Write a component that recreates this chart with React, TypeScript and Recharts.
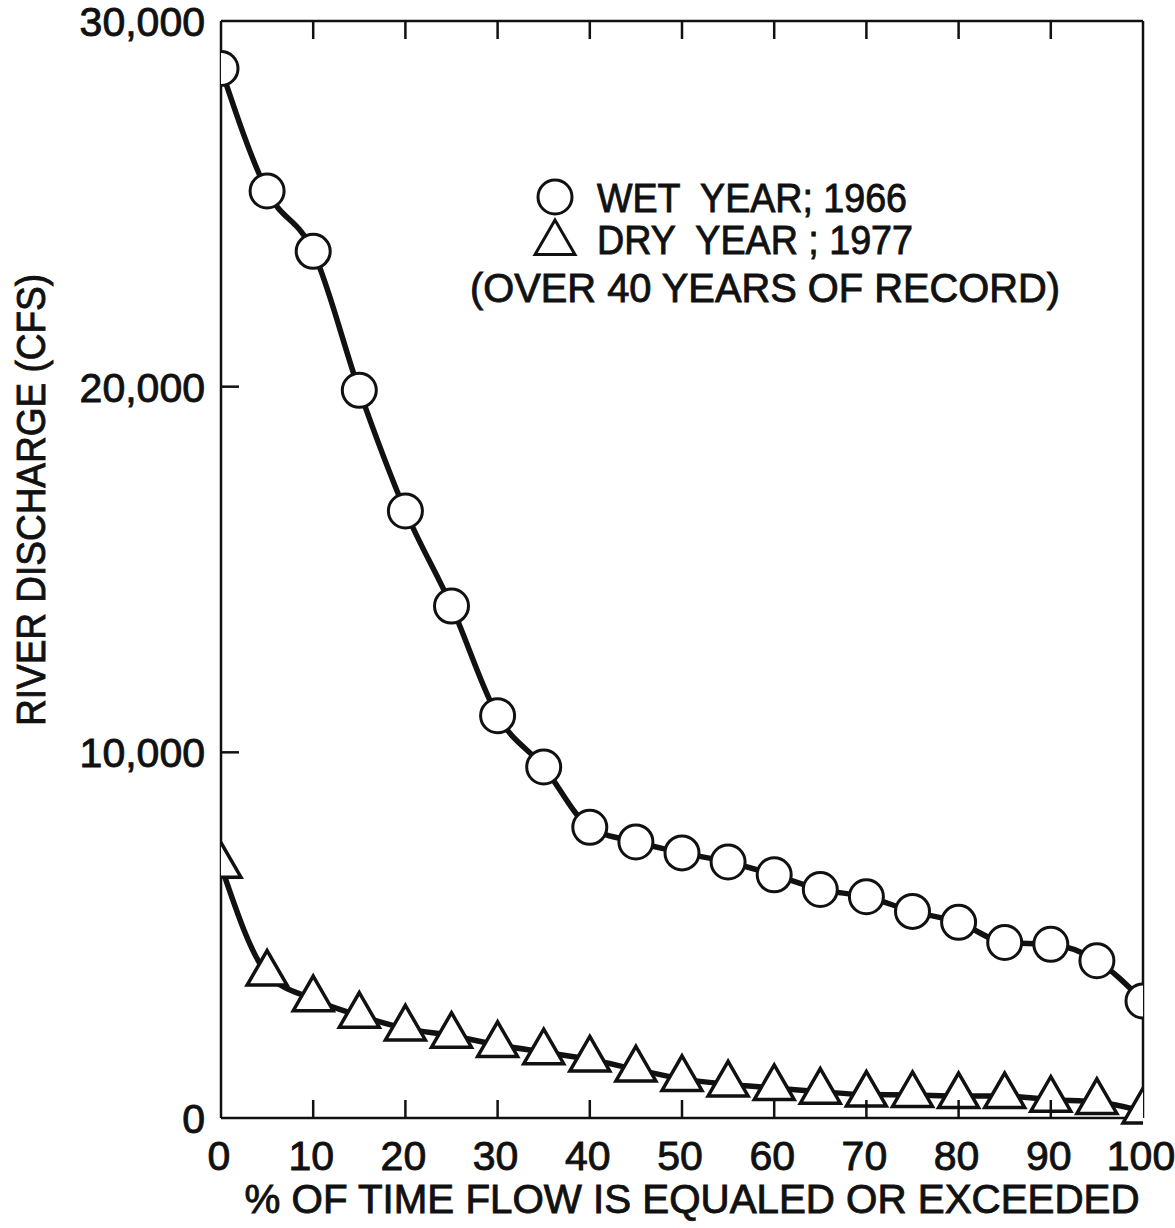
import React from 'react';
import { LineChart, Line, XAxis, YAxis, Legend, Label, Symbols } from 'recharts';

// flow-duration curves, % of time vs discharge (cfs)
const percentTime = [0, 5, 10, 15, 20, 25, 30, 35, 40, 45, 50, 55, 60, 65, 70, 75, 80, 85, 90, 95, 100];
const wetYear1966 = [28700, 25350, 23700, 19900, 16600, 14000, 11000, 9600, 7950, 7550, 7250, 7000, 6650, 6250, 6050, 5650, 5350, 4800, 4750, 4300, 3200];
const dryYear1977 = [6900, 3950, 3250, 2800, 2450, 2250, 2000, 1800, 1600, 1330, 1070, 920, 820, 720, 640, 630, 600, 600, 500, 440, 180];

const xTicks = [0, 10, 20, 30, 40, 50, 60, 70, 80, 90, 100];
const yTicks = [0, 10000, 20000, 30000];

const chartData = percentTime.map((p, i) => ({ p, wet: wetYear1966[i], dry: dryYear1977[i] }));

const INK = '#111';
const FONT = '"Liberation Sans", Arial, sans-serif';
const TICK = 18;
const TRI_AREA = 690;
// a thin outline makes the lettering look pen-drawn
const LETTER = { fontFamily: FONT, fill: INK, stroke: INK, strokeWidth: 0.9 };

const BottomTick = ({ x, y, payload }: any) => {
  const v = payload.value;
  return (
    <g>
      {v > 0 && v < 100 && <line x1={x} y1={y} x2={x} y2={y - TICK} stroke={INK} strokeWidth={2.5} />}
      <text x={x - 2} y={y + 52} textAnchor="middle" fontSize={41} {...LETTER}>{v}</text>
    </g>
  );
};

const TopTick = ({ x, y, payload }: any) => {
  const v = payload.value;
  if (v <= 0 || v >= 100) return <g />;
  return <line x1={x} y1={y} x2={x} y2={y + TICK} stroke={INK} strokeWidth={2.5} />;
};

const LeftTick = ({ x, y, payload }: any) => {
  const v = payload.value;
  return (
    <g>
      {v > 0 && v < 30000 && <line x1={x} y1={y} x2={x + TICK} y2={y} stroke={INK} strokeWidth={2.5} />}
      <text x={x - 16} y={y + 15} textAnchor="end" fontSize={41} {...LETTER}>
        {v.toLocaleString('en-US')}
      </text>
    </g>
  );
};

const RightTick = ({ x, y, payload }: any) => {
  const v = payload.value;
  if (v <= 0 || v >= 30000) return <g />;
  return <line x1={x} y1={y} x2={x - TICK} y2={y} stroke={INK} strokeWidth={2.5} />;
};

const TriangleDot = ({ cx, cy, index }: any) => (
  <Symbols key={`tri-${index}`} cx={cx} cy={cy} type="triangle" size={TRI_AREA} fill="#fff" stroke={INK} strokeWidth={3.5} />
);

const XTitle = ({ viewBox }: any) => (
  <text
    x={viewBox.x + viewBox.width / 2 + 10}
    y={viewBox.y + 95}
    textAnchor="middle"
    fontSize={40}
    {...LETTER}
    textLength={895}
    lengthAdjust="spacingAndGlyphs"
  >
    % OF TIME FLOW IS EQUALED OR EXCEEDED
  </text>
);

const YTitle = ({ viewBox }: any) => {
  const cx = viewBox.x + 45;
  const cy = viewBox.y + 479;
  return (
    <text
      x={cx}
      y={cy}
      transform={`rotate(-90 ${cx} ${cy})`}
      textAnchor="middle"
      fontSize={41}
      {...LETTER}
      textLength={452}
      lengthAdjust="spacingAndGlyphs"
    >
      RIVER DISCHARGE (CFS)
    </text>
  );
};

const KeyBox = () => (
  <svg width={660} height={160} style={{ display: 'block' }}>
    <circle cx={115} cy={37} r={17} fill="#fff" stroke={INK} strokeWidth={3} />
    <text x={157} y={52} fontSize={40} {...LETTER} textLength={310} lengthAdjust="spacingAndGlyphs" xmlSpace="preserve">
      WET  YEAR; 1966
    </text>
    <Symbols cx={115} cy={83} type="triangle" size={TRI_AREA} fill="#fff" stroke={INK} strokeWidth={3} />
    <text x={157} y={94} fontSize={40} {...LETTER} textLength={316} lengthAdjust="spacingAndGlyphs" xmlSpace="preserve">
      DRY  YEAR ; 1977
    </text>
    <text x={30} y={142} fontSize={40} {...LETTER} textLength={590} lengthAdjust="spacingAndGlyphs">
      (OVER 40 YEARS OF RECORD)
    </text>
  </svg>
);

export default function App() {
  return (
    <div style={{ position: 'absolute', left: 0, top: 0, width: 1175, height: 1228, background: '#fff' }}>
      <LineChart width={1175} height={1228} data={chartData} margin={{ top: 20, right: 31, bottom: 10, left: 0 }}>
        <XAxis
          dataKey="p"
          type="number"
          domain={[0, 100]}
          ticks={xTicks}
          interval={0}
          allowDataOverflow
          height={100}
          tickSize={0}
          tickMargin={0}
          tickLine={false}
          axisLine={{ stroke: INK, strokeWidth: 2.5 }}
          tick={<BottomTick />}
        >
          <Label content={<XTitle />} />
        </XAxis>
        <XAxis
          xAxisId="top"
          orientation="top"
          dataKey="p"
          type="number"
          domain={[0, 100]}
          ticks={xTicks}
          interval={0}
          height={1}
          tickSize={0}
          tickMargin={0}
          tickLine={false}
          axisLine={{ stroke: INK, strokeWidth: 2.5 }}
          tick={<TopTick />}
        />
        <YAxis
          type="number"
          domain={[0, 30000]}
          ticks={yTicks}
          interval={0}
          width={221}
          tickSize={0}
          tickMargin={0}
          tickLine={false}
          axisLine={{ stroke: INK, strokeWidth: 2.5 }}
          tick={<LeftTick />}
        >
          <Label content={<YTitle />} />
        </YAxis>
        <YAxis
          yAxisId="right"
          orientation="right"
          type="number"
          domain={[0, 30000]}
          ticks={yTicks}
          interval={0}
          width={1}
          tickSize={0}
          tickMargin={0}
          tickLine={false}
          axisLine={{ stroke: INK, strokeWidth: 2.5 }}
          tick={<RightTick />}
        />
        <Legend
          layout="horizontal"
          verticalAlign="middle"
          align="center"
          content={<KeyBox />}
          wrapperStyle={{ position: 'absolute', left: 440, top: 160, width: 660, height: 160 }}
        />
        <Line
          type="monotone"
          dataKey="dry"
          stroke={INK}
          strokeWidth={5.5}
          dot={<TriangleDot />}
          activeDot={false}
          isAnimationActive={false}
        />
        <Line
          type="monotone"
          dataKey="wet"
          stroke={INK}
          strokeWidth={5.5}
          dot={{ r: 17, fill: '#fff', stroke: INK, strokeWidth: 3 }}
          activeDot={false}
          isAnimationActive={false}
        />
      </LineChart>
    </div>
  );
}
